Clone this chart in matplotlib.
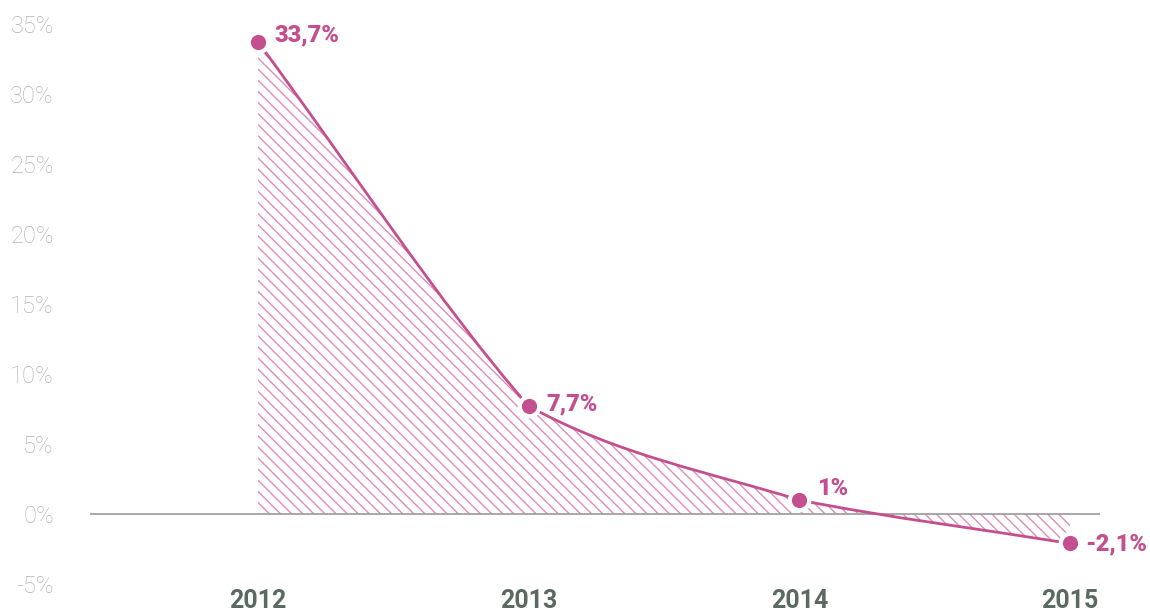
import numpy as np
import matplotlib
matplotlib.use('Agg')

import matplotlib.pyplot as plt
from matplotlib.path import Path
from matplotlib.patches import PathPatch

# growth per year (%)
years = ['2012', '2013', '2014', '2015']
growth = [33.7, 7.7, 1.0, -2.1]
value_labels = ['33,7%', '7,7%', '1%', '-2,1%']
y_ticks = [-5, 0, 5, 10, 15, 20, 25, 30, 35]

PINK = '#c44f8e'
HATCH = '#e08cba'
YEAR_COLOR = '#5a6a60'
TICK_COLOR = '#b3b3b3'

plt.rcParams['hatch.linewidth'] = 1.0


def smooth_segments(x, y, k=0.2):
    # cubic bezier per segment; each side of a point leans on its own chord
    x = np.asarray(x, float)
    y = np.asarray(y, float)
    s = np.diff(y) / np.diff(x)
    verts = [(x[0], y[0])]
    codes = [Path.MOVETO]
    for i in range(len(s)):
        t_out = s[i] if i == 0 else (1 - k) * s[i] + k * s[i - 1]
        t_in = s[i] if i == len(s) - 1 else (1 - k) * s[i] + k * s[i + 1]
        dx = (x[i + 1] - x[i]) / 3
        verts += [(x[i] + dx, y[i] + dx * t_out),
                  (x[i + 1] - dx, y[i + 1] - dx * t_in),
                  (x[i + 1], y[i + 1])]
        codes += [Path.CURVE4] * 3
    return verts, codes


fig = plt.figure(figsize=(11.5, 6.14), dpi=100)
ax = fig.add_axes([90 / 1150, 0, 1010 / 1150, 1])
ax.set_xlim(-0.621, 3.111)
ax.set_ylim(-7.14, 36.71)

xs = np.arange(len(years))
verts, codes = smooth_segments(xs, growth)

# hatched area between curve and zero
fill_verts = verts + [(xs[-1], 0), (xs[0], 0), verts[0]]
fill_codes = codes + [Path.LINETO, Path.LINETO, Path.CLOSEPOLY]
ax.add_patch(PathPatch(Path(fill_verts, fill_codes), facecolor='none',
                       edgecolor=HATCH, linewidth=0, hatch='\\\\\\', zorder=1))

ax.axhline(0, color='#9a9a9a', lw=1.2, zorder=2)

ax.add_patch(PathPatch(Path(verts, codes), facecolor='none',
                       edgecolor=PINK, linewidth=2.0, zorder=3))
ax.plot(xs, growth, 'o', ms=14, color=PINK, mec='white', mew=3, zorder=4)

offsets = [(12, 5), (13, 1.5), (13, 8), (11, 0)]
for i, (lab, off) in enumerate(zip(value_labels, offsets)):
    ax.annotate(lab, (xs[i], growth[i]), xytext=off, textcoords='offset points',
                ha='left', va='center', color=PINK, fontsize=17,
                fontweight='heavy', family='Roboto')

for i, yr in enumerate(years):
    ax.text(xs[i], -6.2, yr, ha='center', va='center', color=YEAR_COLOR,
            fontsize=18, fontweight='bold', family='Roboto')

ax.set_yticks(y_ticks)
ax.set_yticklabels([f'{v}%' for v in y_ticks], color=TICK_COLOR,
                   fontsize=17, family='Roboto', fontweight='light')
ax.tick_params(axis='y', length=0, pad=26)
ax.set_xticks([])
for sp in ax.spines.values():
    sp.set_visible(False)
ax.patch.set_alpha(0)

fig.savefig('out.png', dpi=100)
